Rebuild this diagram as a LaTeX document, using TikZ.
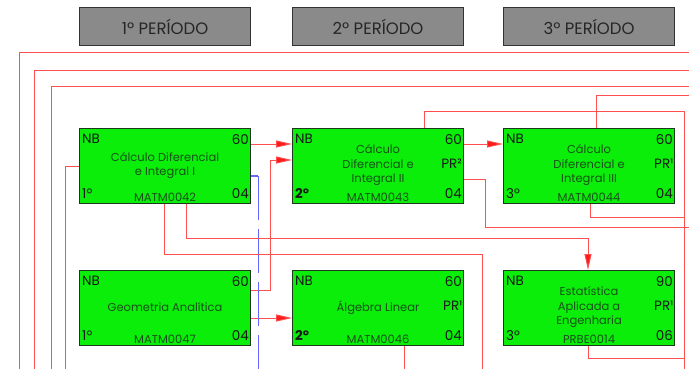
\documentclass[tikz,border=0pt]{standalone}
\usepackage{fontspec}
\setmainfont{Poppins}
\usetikzlibrary{arrows.meta,calc}
\definecolor{boxgreen}{RGB}{10,238,10}
\definecolor{boxedge}{RGB}{30,55,30}
\definecolor{txtgreen}{RGB}{25,80,25}
\definecolor{linkred}{RGB}{255,80,80}
\definecolor{dashblue}{RGB}{100,100,255}
\definecolor{hdrgray}{RGB}{138,138,138}
\newcommand\mkcourse[9]{%
  \node[course] (#1) at (#2,#3) {};
  \node[corner,anchor=north west] at ([xshift=3pt,yshift=-6pt]#1.north west) {NB};
  \node[corner,anchor=north east] at ([xshift=-2pt,yshift=-6pt]#1.north east) {#5};
  \node[corner,anchor=east] at ([xshift=-2pt,yshift=2pt]#1.east) {#6};
  \node[corner,anchor=base west] at ([xshift=3pt,yshift=6pt]#1.south west) {#7};
  \node[corner,anchor=base east] at ([xshift=-2pt,yshift=6pt]#1.south east) {#8};
  \node[title] at ([yshift=0.5pt]#1.center) {#4};
  \node[code,anchor=base] at ([yshift=3pt]#1.south) {#9};
}
\begin{document}
\begin{tikzpicture}[x=1pt,y=-1pt,
  hdr/.style={draw=black!80, fill=hdrgray, line width=1.1pt, minimum width=171pt,
    minimum height=38pt, inner sep=0pt, anchor=north west,
    font=\fontsize{16.5}{18}\selectfont, text=black!85},
  course/.style={draw=boxedge, fill=boxgreen, line width=1.1pt, minimum width=171pt,
    minimum height=75pt, inner sep=0pt, anchor=north west},
  corner/.style={font=\fontsize{13.5}{14}\selectfont, inner sep=0pt, text=black!90},
  title/.style={font=\fontsize{11.5}{14.5}\selectfont, align=center, text=txtgreen, inner sep=0pt},
  code/.style={font=\fontsize{11.5}{12}\selectfont, text=txtgreen, inner sep=0pt},
  link/.style={draw=linkred, line width=0.9pt},
  arr/.style={link, -{Triangle[length=16pt,width=7pt,fill=red!90]}},
  bluel/.style={draw=dashblue, line width=1.1pt}]
\useasboundingbox (0,0) rectangle (689,369);

% headers
\node[hdr] (h1) at (79,7) {1º PERÍODO};
\node[hdr] (h2) at (292,7) {2º PERÍODO};
\node[hdr] (h3) at (503,7) {3º PERÍODO};

% free ends
\coordinate (e1a) at (19,369);  \coordinate (e1b) at (689,52);
\coordinate (e2a) at (34,369);  \coordinate (e2b) at (689,70);
\coordinate (e3a) at (51,369);  \coordinate (e3b) at (689,86);
\coordinate (e4) at (65,369);
\coordinate (e9) at (482,369);
\coordinate (e11) at (684,369);
\coordinate (e12) at (689,95);
\coordinate (e13) at (689,227);
\coordinate (e14) at (684,217);
\coordinate (e15) at (684,358);

% long lines from outside
\draw[link] (e1a) |- (e1b);
\draw[link] (e2a) |- (e2b);
\draw[link] (e3a) |- (e3b);

% courses
\mkcourse{c1}{79}{128}{Cálculo Diferencial\\e Integral I}{60}{}{1º}{04}{MATM0042}
\mkcourse{c2}{292}{128}{Cálculo\\Diferencial e\\Integral II}{60}{PR²}{\textbf{2º}}{04}{MATM0043}
\mkcourse{c3}{503}{128}{Cálculo\\Diferencial e\\Integral III}{60}{PR¹}{3º}{04}{MATM0044}
\mkcourse{g1}{79}{270}{Geometria Analítica}{60}{}{1º}{04}{MATM0047}
\mkcourse{al}{292}{270}{Álgebra Linear}{60}{PR¹}{\textbf{2º}}{04}{MATM0046}
\mkcourse{es}{503}{270}{Estatística\\Aplicada a\\Engenharia}{90}{PR¹}{3º}{06}{PRBE0014}

% connectors
\draw[link] ($(c1.north west)+(0,38)$) -| (e4);
\draw[arr] ($(c1.north east)+(0,16)$) -- ($(c2.north west)+(0,16)$);
\draw[arr] ($(c2.north east)+(0,16)$) -- ($(c3.north west)+(0,16)$);
\draw[arr] ($(g1.north east)+(0,20)$) -- ++(19,0) |- ($(c2.north west)+(0,32)$);
\draw[arr] ($(g1.north east)+(0,48)$) -- ($(al.north west)+(0,48)$);
\draw[bluel] ($(c1.north east)+(0,48)$) -- ++(7,0) coordinate (b1);
\draw[bluel, dash pattern=on 43.5pt off 9.5pt] (b1) -- (b1 |- e4);
\draw[link] ($(c1.south west)+(85,0)$) -- ++(0,50) -| (e9);
\draw[arr] ($(c1.south west)+(107,0)$) -- ++(0,34) -| ($(es.north west)+(85,0)$);
\draw[link] ($(c2.north west)+(132,0)$) -- ++(0,-17) -| (e11);
\draw[link] ($(c3.north west)+(93,0)$) -- ++(0,-33) -- (e12);
\draw[link] ($(c2.north east)+(0,51)$) -- ++(21,0) |- (e13);
\draw[link] ($(c3.south west)+(87,0)$) |- (e14);
\draw[link] ($(es.south west)+(85,0)$) |- (e15);
\draw[link] ($(al.south west)+(112,0)$) -- ++(0,23);
\end{tikzpicture}
\end{document}
